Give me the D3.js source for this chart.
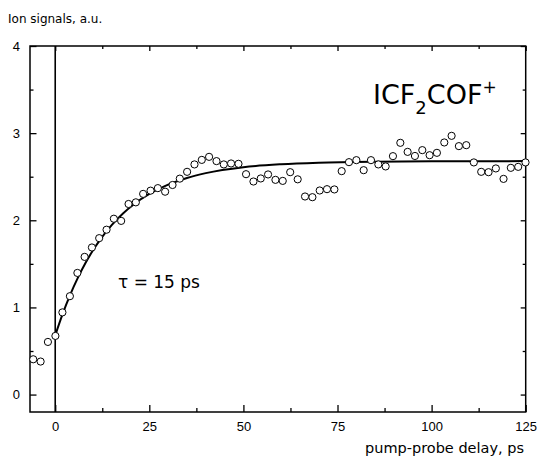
<!DOCTYPE html>
<html>
<head>
<meta charset="utf-8">
<script src="https://cdn.jsdelivr.net/npm/d3@7"></script>
<style>
  html, body { margin: 0; padding: 0; background: #fff; }
  svg { display: block; }
</style>
</head>
<body>
<svg id="chart" width="539" height="462"></svg>
<script>
// ---- data ----
const delays = [-5.84, -3.88, -1.94, 0.05, 1.91, 3.90, 5.89, 7.81, 9.75, 11.68,
  13.64, 15.58, 17.52, 19.48, 21.42, 23.36, 25.33, 27.27, 29.20, 31.17,
  33.10, 35.04, 37.00, 38.94, 40.88, 42.85, 44.79, 46.72, 48.69, 50.70,
  52.67, 54.61, 56.55, 58.51, 60.45, 62.43, 64.42, 66.37, 68.33, 70.27,
  72.21, 74.17, 76.11, 78.05, 80.01, 81.95, 83.89, 85.85, 87.79, 89.73,
  91.69, 93.63, 95.57, 97.53, 99.47, 101.41, 103.37, 105.31, 107.25, 109.21,
  111.22, 113.18, 115.13, 117.07, 119.11, 121.05, 123.01, 124.95];
const signals = [0.405, 0.379, 0.604, 0.673, 0.943, 1.129, 1.396, 1.580, 1.688, 1.795,
  1.892, 2.018, 1.993, 2.187, 2.206, 2.303, 2.340, 2.369, 2.328, 2.405,
  2.478, 2.556, 2.641, 2.693, 2.728, 2.679, 2.641, 2.652, 2.648, 2.529,
  2.445, 2.480, 2.526, 2.464, 2.452, 2.552, 2.470, 2.273, 2.265, 2.342,
  2.357, 2.354, 2.564, 2.667, 2.690, 2.575, 2.690, 2.641, 2.618, 2.736,
  2.889, 2.785, 2.738, 2.805, 2.747, 2.774, 2.893, 2.969, 2.851, 2.862,
  2.664, 2.556, 2.552, 2.595, 2.475, 2.602, 2.613, 2.664];
// fitted curve (tau = 15 ps)
const fitT = [0, 2, 4, 6, 8, 10, 12, 15, 18, 21, 25, 30, 35, 40, 50, 60, 70, 85, 100, 125];
const fitY = [0.68, 0.930, 1.148, 1.339, 1.507, 1.653, 1.781, 1.944, 2.078, 2.187,
  2.302, 2.409, 2.486, 2.541, 2.609, 2.643, 2.661, 2.673, 2.677, 2.679];
const xTicks = [0, 25, 50, 75, 100, 125];
const xMinor = [12.5, 37.5, 62.5, 87.5, 112.5];
const yTicks = [0, 1, 2, 3, 4];
const yMinor = [0.5, 1.5, 2.5, 3.5];
const xDomain = [-6.7, 125];
const yDomain = [-0.2, 4];

// ---- layout ----
const L = 30, R = 525.7, T = 46, B = 412;
const svg = d3.select('#chart');
const x = d3.scaleLinear().domain(xDomain).range([L, R]);
const y = d3.scaleLinear().domain(yDomain).range([B, T]);
const tickFont = '"Liberation Sans", Arial, sans-serif';
const labFont = '"DejaVu Sans", Verdana, sans-serif';

// axes (inward ticks)
function styleAxis(g) {
  g.selectAll('path.domain').remove();
  g.selectAll('.tick line').attr('stroke', '#000').attr('stroke-width', 1.3);
  g.selectAll('.tick text').attr('font-family', tickFont).attr('font-size', 13).attr('fill', '#000');
}
// bottom
svg.append('g').attr('transform', `translate(0,${B})`)
  .call(d3.axisBottom(x).tickValues(xTicks).tickSizeInner(-7).tickSizeOuter(0).tickPadding(10).tickFormat(d3.format('d')))
  .call(styleAxis);
svg.append('g').attr('transform', `translate(0,${B})`)
  .call(d3.axisBottom(x).tickValues(xMinor).tickSizeInner(-4).tickSizeOuter(0).tickFormat(''))
  .call(styleAxis);
// top
svg.append('g').attr('transform', `translate(0,${T})`)
  .call(d3.axisTop(x).tickValues(xTicks).tickSizeInner(-5).tickSizeOuter(0).tickFormat(''))
  .call(styleAxis);
svg.append('g').attr('transform', `translate(0,${T})`)
  .call(d3.axisTop(x).tickValues(xMinor).tickSizeInner(-3).tickSizeOuter(0).tickFormat(''))
  .call(styleAxis);
// left
svg.append('g').attr('transform', `translate(${L},0)`)
  .call(d3.axisLeft(y).tickValues(yTicks).tickSizeInner(-6.5).tickSizeOuter(0).tickPadding(10).tickFormat(d3.format('d')))
  .call(styleAxis);
svg.append('g').attr('transform', `translate(${L},0)`)
  .call(d3.axisLeft(y).tickValues(yMinor).tickSizeInner(-3.5).tickSizeOuter(0).tickFormat(''))
  .call(styleAxis);
// right
svg.append('g').attr('transform', `translate(${R},0)`)
  .call(d3.axisRight(y).tickValues(yTicks).tickSizeInner(-5).tickSizeOuter(0).tickFormat(''))
  .call(styleAxis);
svg.append('g').attr('transform', `translate(${R},0)`)
  .call(d3.axisRight(y).tickValues(yMinor).tickSizeInner(-3).tickSizeOuter(0).tickFormat(''))
  .call(styleAxis);

// frame
svg.append('rect').attr('x', L).attr('y', T).attr('width', R - L).attr('height', B - T)
  .attr('fill', 'none').attr('stroke', '#000').attr('stroke-width', 1.5);

// time zero line
svg.append('line').attr('x1', x(0)).attr('x2', x(0)).attr('y1', T).attr('y2', B)
  .attr('stroke', '#000').attr('stroke-width', 1.6);

// fit curve
const fit = fitT.map((t, i) => [t, fitY[i]]);
svg.append('path').datum(fit)
  .attr('d', d3.line().x(d => x(d[0])).y(d => y(d[1])).curve(d3.curveMonotoneX))
  .attr('fill', 'none').attr('stroke', '#000').attr('stroke-width', 2);

// data points
const pts = delays.map((t, i) => [t, signals[i]]);
svg.append('g').selectAll('circle').data(pts).join('circle')
  .attr('cx', d => x(d[0])).attr('cy', d => y(d[1])).attr('r', 3.6)
  .attr('fill', '#fff').attr('stroke', '#000').attr('stroke-width', 1);

// labels
svg.append('text').attr('x', 8).attr('y', 23).attr('font-family', labFont).attr('font-size', 12)
  .text('Ion signals, a.u.');
svg.append('text').attr('x', 524).attr('y', 453).attr('text-anchor', 'end')
  .attr('font-family', labFont).attr('font-size', 14.5).text('pump-probe delay, ps');

const ion = svg.append('text').attr('x', 373).attr('y', 104).attr('font-family', labFont).attr('font-size', 27);
ion.append('tspan').text('ICF');
ion.append('tspan').attr('font-size', 18).attr('dy', 10).text('2');
ion.append('tspan').attr('dy', -10).text('COF');
ion.append('tspan').attr('font-size', 17).attr('dy', -11).text('+');

svg.append('text').attr('x', 118).attr('y', 288).attr('font-family', labFont).attr('font-size', 17)
  .text('τ = 15 ps');
</script>
</body>
</html>
